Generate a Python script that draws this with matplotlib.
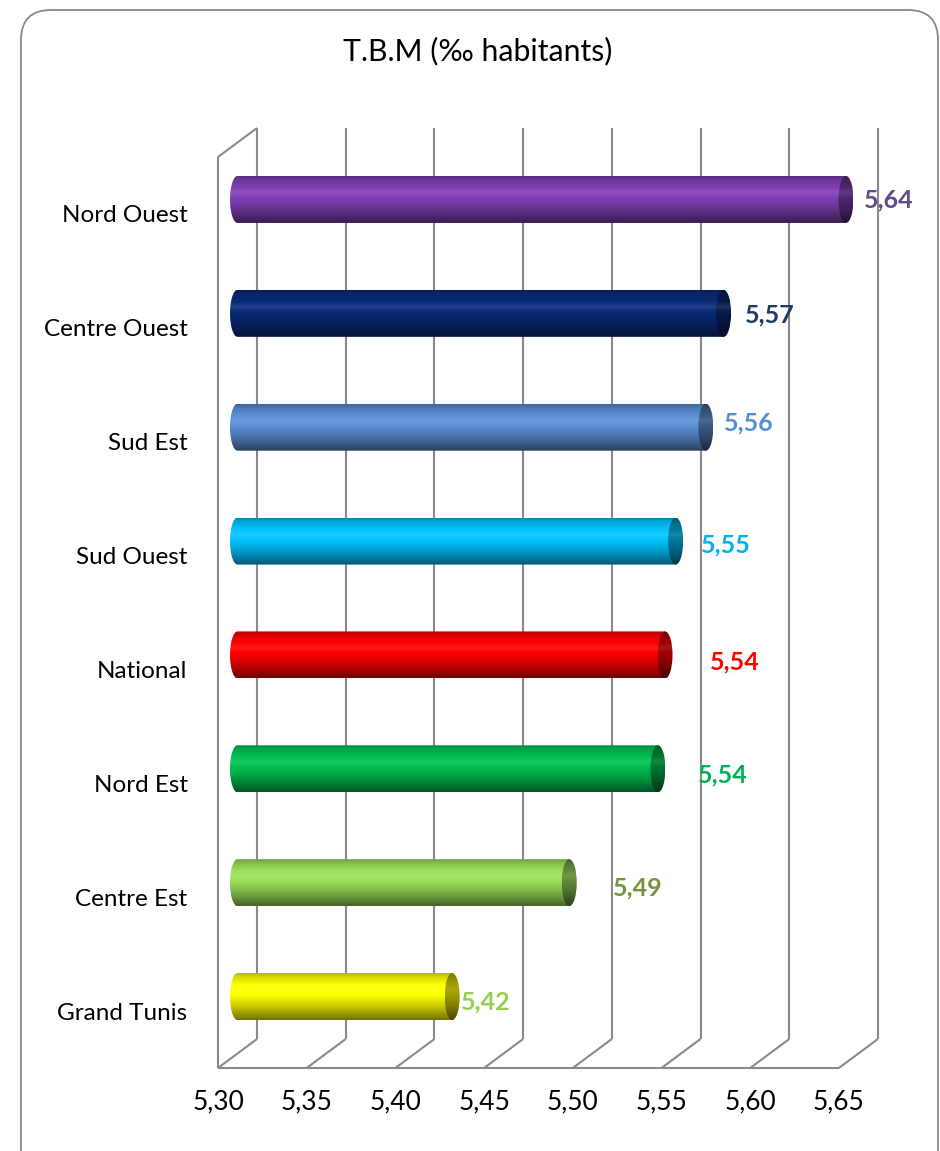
import numpy as np
import matplotlib
matplotlib.use("Agg")
import matplotlib.pyplot as plt
from matplotlib.path import Path
from matplotlib.patches import PathPatch, Ellipse, FancyBboxPatch
from matplotlib.colors import to_rgb

plt.rcParams['font.family'] = ['Lato', 'DejaVu Sans']

# data, top to bottom
regions = ['Nord Ouest', 'Centre Ouest', 'Sud Est', 'Sud Ouest',
           'National', 'Nord Est', 'Centre Est', 'Grand Tunis']
tbm = [5.643, 5.574, 5.564, 5.547, 5.541, 5.537, 5.487, 5.421]
ticks = [5.30, 5.35, 5.40, 5.45, 5.50, 5.55, 5.60, 5.65]
title = 'T.B.M (‰ habitants)'

bar_colors = ['#7f3fb5', '#0a2a78', '#5b8fd5', '#00c4ff',
              '#ff0000', '#00c050', '#9ce05a', '#ffff00']
label_colors = ['#5f4a8b', '#1f3b66', '#558ed5', '#00b0f0',
                '#ff0000', '#00b050', '#77933c', '#92d050']
# excel put the value labels a bit all over the place (px: right, down)
label_dx = [10, 14, 11, 18, 37, 32, 36, 1]
label_dy = [0, 2, -4, 4, 7, 6, 5, 5]

W, H = 940, 1151
fig = plt.figure(figsize=(W / 100, H / 100), dpi=100)

# rounded chart border, bottom goes off the picture
fig.patches.append(FancyBboxPatch((0.21, -0.5), 9.17, 11.91,
                                  boxstyle='round,pad=0,rounding_size=0.3',
                                  transform=fig.dpi_scale_trans, zorder=-1,
                                  facecolor='white', edgecolor='#8a8a8a', lw=1.3))

fig.text(478 / W, 1 - 51 / H, title, ha='center', va='center', fontsize=21.8)

# axes = middle depth plane of the 3d box
left, right, top, bottom = 237.5, 858.4, 142.5, 1053.5
ax = fig.add_axes([left / W, 1 - bottom / H, (right - left) / W, (bottom - top) / H])
ax.set_axis_off()
xmin, xmax = ticks[0], ticks[-1]
n = len(regions)
ax.set_xlim(xmin, xmax)
ax.set_ylim(n, 0)

# depth offset, half of the box depth (px -> data units)
ux = (xmax - xmin) / (right - left)
uy = n / (bottom - top)
ddx, ddy = 19.5 * ux, 14.5 * uy

def back(x, y):
    return x + ddx, y - ddy

def front(x, y):
    return x - ddx, y + ddy

grid = dict(color='#8a8a8a', lw=1.5, clip_on=False, solid_capstyle='butt', zorder=1)
for t in ticks:
    (bx0, by0), (bx1, by1) = back(t, n), back(t, 0)
    ax.plot([bx0, bx1], [by0, by1], **grid)
    (fx, fy), (bx, by) = front(t, n), back(t, n)
    ax.plot([fx, bx], [fy, by], **grid)
(f0x, f0y), (f1x, f1y) = front(xmin, n), front(xmax, n)
ax.plot([f0x, f1x], [f0y, f1y], **grid)
(tx, ty) = front(xmin, 0)
ax.plot([f0x, tx], [f0y, ty], **grid)
(bx, by) = back(xmin, 0)
ax.plot([tx, bx], [ty, by], **grid)


def shade(color, k=1.0):
    c = np.array(to_rgb(color)) * k
    t = np.linspace(0, 1, 80)
    f = np.interp(t, [0, 0.08, 0.35, 0.7, 1.0], [0.72, 0.85, 1.1, 0.8, 0.45])
    rows = []
    for v in f:
        if v > 1:
            rows.append(c + (1 - c) * (v - 1))
        else:
            rows.append(c * v)
    return np.clip(np.array(rows), 0, 1)[:, None, :]


def cylinder(x0, x1, yc, h, color):
    rx = 7.5 * ux
    th = np.linspace(np.pi / 2, 3 * np.pi / 2, 50)
    verts = [(x0 + rx * np.cos(a), yc - h / 2 * np.sin(a)) for a in th]
    verts += [(x1, yc + h / 2), (x1, yc - h / 2), verts[0]]
    body = PathPatch(Path(verts, closed=True), transform=ax.transData,
                     facecolor='none', edgecolor='none')
    im = ax.imshow(shade(color), extent=(x0 - rx, x1, yc + h / 2, yc - h / 2),
                   origin='upper', aspect='auto', interpolation='bilinear', zorder=3)
    im.set_clip_path(body)
    im.set_clip_box(fig.bbox)
    cap = Ellipse((x1, yc), 2 * rx, h, transform=ax.transData,
                  facecolor='none', edgecolor='none')
    im2 = ax.imshow(shade(color, 0.62), extent=(x1 - rx, x1 + rx, yc + h / 2, yc - h / 2),
                    origin='upper', aspect='auto', interpolation='bilinear', zorder=4)
    im2.set_clip_path(cap)
    im2.set_clip_box(fig.bbox)
    return x1 + rx


bar_h = 47 * uy
for i, (name, v) in enumerate(zip(regions, tbm)):
    yc = i + 0.5
    xe = cylinder(xmin, v, yc, bar_h, bar_colors[i])
    ax.annotate(f'{v:.2f}'.replace('.', ','), (xe, yc),
                xytext=(label_dx[i] * 0.72, -label_dy[i] * 0.72), textcoords='offset points',
                ha='left', va='center', fontsize=18, fontweight='bold',
                color=label_colors[i], annotation_clip=False, zorder=5)
    ax.annotate(name, (xmin, yc), xytext=(-50 * 0.72, -16.5 * 0.72),
                textcoords='offset points', ha='right', va='center',
                fontsize=17.5, annotation_clip=False)

for t in ticks:
    ax.annotate(f'{t:.2f}'.replace('.', ','), (t, n), xytext=(-19.5 * 0.72, -48.5 * 0.72),
                textcoords='offset points', ha='center', va='center',
                fontsize=19, annotation_clip=False)

ax.set_xlim(xmin, xmax)
ax.set_ylim(n, 0)

fig.savefig('out.png', dpi=100)
